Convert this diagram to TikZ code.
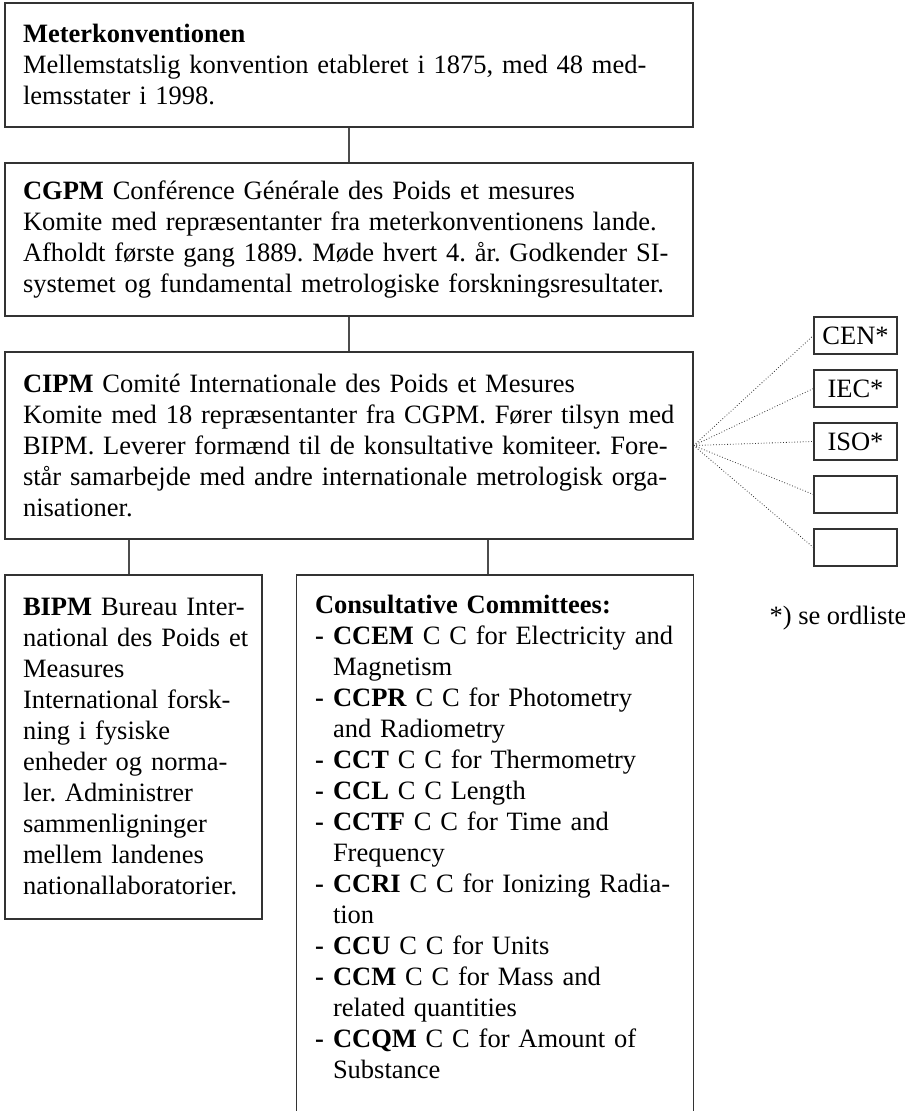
\documentclass[tikz,border=0pt]{standalone}
\usepackage{fontspec}
\setmainfont{Liberation Serif}
\usepackage{tikz}
\usetikzlibrary{positioning,backgrounds}
\frenchspacing

\newcommand{\ccdash}{\makebox[9pt][l]{\textbf{-}}}
\newcommand{\ccgap}{\hspace*{9pt}}

\tikzset{
  orgbox/.style={draw=black!80, line width=0.6pt, inner xsep=9pt, inner ysep=0pt, align=left, font=\fontsize{13.25}{15.5}\selectfont},
  smallbox/.style={draw=black!80, line width=0.6pt, minimum width=41.5pt, minimum height=18.5pt, inner sep=0pt, font=\fontsize{13.25}{15.5}\selectfont},
}

\begin{document}
\begin{tikzpicture}[x=0.5pt,y=-0.5pt]
\useasboundingbox (0,0) rectangle (904,1111);
\coordinate (pagebottom) at (0,1111);
\node[orgbox, text width=326pt, minimum height=62pt] (meter) at (349,65) {\textbf{Meterkonventionen}\\
Mellemstatslig konvention etableret i 1875, med 48 med-\\
lemsstater i 1998.};
\node[orgbox, text width=326pt, minimum height=76.5pt] (cgpm) at (349,239.5) {\textbf{CGPM} Conférence Générale des Poids et mesures\\
Komite med repræsentanter fra meterkonventionens lande.\\
\mbox{Afholdt første gang 1889. Møde hvert 4. år. Godkender SI-}\\
systemet og fundamental metrologiske forskningsresultater.};
\node[orgbox, text width=326pt, minimum height=93.5pt] (cipm) at (349,445.5) {\textbf{CIPM} Comité Internationale des Poids et Mesures\\
Komite med 18 repræsentanter fra CGPM. Fører tilsyn med\\
BIPM. Leverer formænd til de konsultative komiteer. Fore-\\
står samarbejde med andre internationale metrologisk orga-\\
nisationer.};
\node[orgbox, text width=110.5pt, minimum height=172pt] (bipm) at (133.5,747) {\mbox{\textbf{BIPM} Bureau Inter-}\\
\mbox{national des Poids et}\\
Measures\\
International forsk-\\
ning i fysiske\\
enheder og norma-\\
ler. Administrer\\
sammenligninger\\
mellem landenes\\
nationallaboratorier.};
\node[orgbox, draw=none, text width=180pt, inner ysep=10pt, anchor=north] (cc) at (495,575) {\textbf{Consultative Committees:}\\
\ccdash\textbf{CCEM} C C for Electricity and\\
\ccgap Magnetism\\
\ccdash\textbf{CCPR} C C for Photometry\\
\ccgap and Radiometry\\
\ccdash\textbf{CCT} C C for Thermometry\\
\ccdash\textbf{CCL} C C Length\\
\ccdash\textbf{CCTF} C C for Time and\\
\ccgap Frequency\\
\ccdash\textbf{CCRI} C C for Ionizing Radia-\\
\ccgap tion\\
\ccdash\textbf{CCU} C C for Units\\
\ccdash\textbf{CCM} C C for Mass and\\
\ccgap related quantities\\
\ccdash\textbf{CCQM} C C for Amount of\\
\ccgap Substance};
\node[smallbox] (cen) at (855.5,335.5) {CEN*};
\node[smallbox] (iec) at (855.5,388.5) {IEC*};
\node[smallbox] (iso) at (855.5,441.5) {ISO*};
\node[smallbox] (orgfour) at (855.5,494.5) {};
\node[smallbox] (orgfive) at (855.5,547.5) {};
\node[font=\fontsize{13.25}{15.5}\selectfont] (note) at (838,618) {*) se ordliste};
\path [draw, color=black!80, line width=0.6pt] (cc.north west |- pagebottom) -- (cc.north west) -- (cc.north east) -- (cc.north east |- pagebottom);
\begin{scope}[on background layer]
\path [draw, color=black!70, line width=0.6pt] (meter.south) -- (cgpm.north);
\path [draw, color=black!70, line width=0.6pt] (cgpm.south) -- (cipm.north);
\path [draw, color=black!70, line width=0.6pt] ([xshift=-2.25pt]bipm.north) -- ([xshift=-2.25pt]bipm.north |- cipm.south);
\path [draw, color=black!70, line width=0.6pt] ([xshift=-3.5pt]cc.north) -- ([xshift=-3.5pt]cc.north |- cipm.south);
\path [draw, densely dotted, color=black!80, line width=0.4pt] (cipm.east) -- (cen.west);
\path [draw, densely dotted, color=black!80, line width=0.4pt] (cipm.east) -- (iec.west);
\path [draw, densely dotted, color=black!80, line width=0.4pt] (cipm.east) -- (iso.west);
\path [draw, densely dotted, color=black!80, line width=0.4pt] (cipm.east) -- (orgfour.west);
\path [draw, densely dotted, color=black!80, line width=0.4pt] (cipm.east) -- (orgfive.west);
\end{scope}
\end{tikzpicture}
\end{document}
